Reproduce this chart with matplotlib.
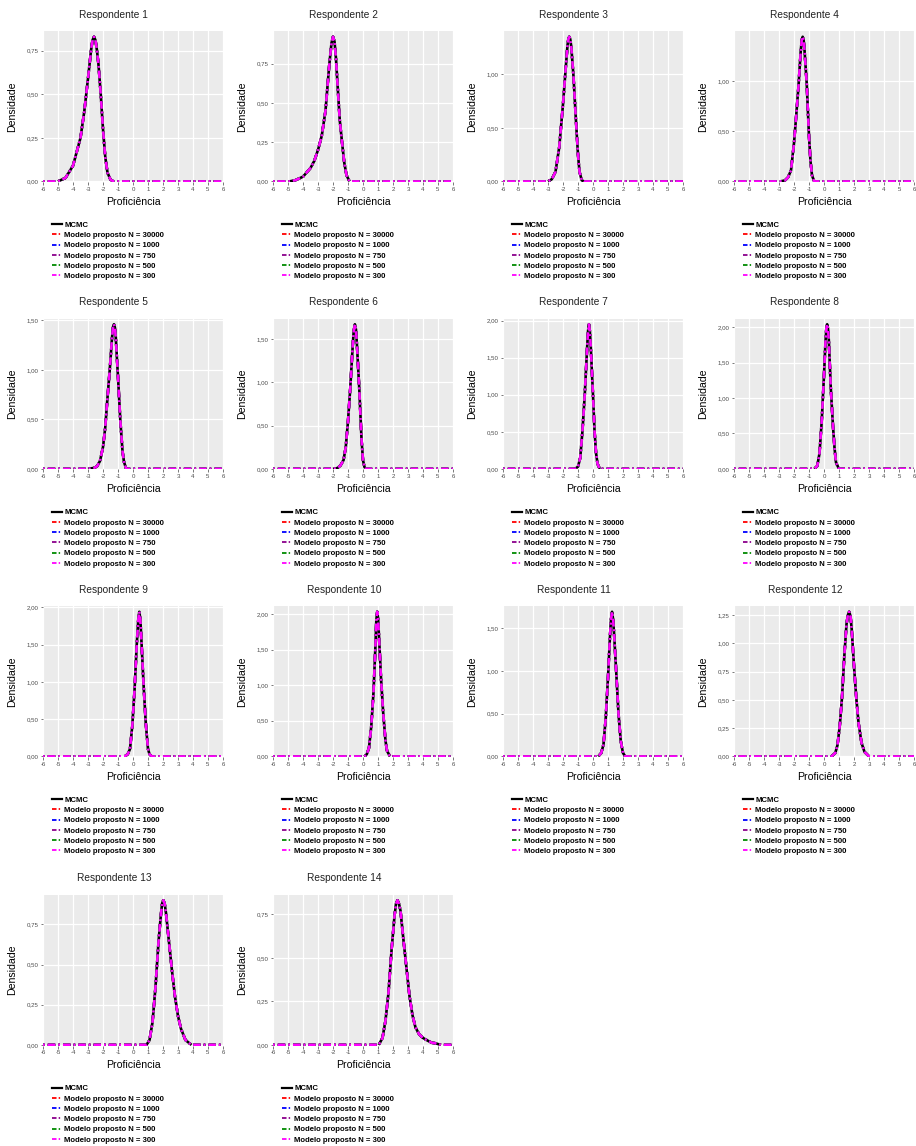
import matplotlib
matplotlib.use("Agg")
import matplotlib.pyplot as plt
from matplotlib.lines import Line2D

plt.rcParams['font.family'] = ['Liberation Sans', 'DejaVu Sans']

# ---------------- data ----------------
series_labels = ["MCMC", "Modelo proposto N = 30000", "Modelo proposto N = 1000",
                 "Modelo proposto N = 750", "Modelo proposto N = 500",
                 "Modelo proposto N = 300"]
series_colors = ["#000000", "#FF0000", "#0000FF", "#8B008B", "#008B00", "#FF00FF"]

x_ticks = [-6, -5, -4, -3, -2, -1, 0, 1, 2, 3, 4, 5, 6]
x_tick_labels = ["-6", "-5", "-4", "-3", "-2", "-1", "0", "1", "2", "3", "4", "5", "6"]

titles = ["Respondente %d" % i for i in range(1, 15)]

theta_1 = [-5.0, -4.5, -4.0, -3.75, -3.5, -3.25, -3.0, -2.8, -2.7, -2.6, -2.5, -2.4, -2.3, -2.15, -2.0, -1.85, -1.7, -1.5, -1.3]
dens_1 = [0.0, 0.02, 0.09, 0.17, 0.25, 0.40, 0.59, 0.75, 0.81, 0.83, 0.81, 0.75, 0.67, 0.50, 0.30, 0.14, 0.05, 0.01, 0.0]

theta_2 = [-4.9, -4.5, -4.0, -3.5, -3.25, -3.0, -2.75, -2.5, -2.25, -2.1, -2.0, -1.9, -1.8, -1.7, -1.55, -1.4, -1.25, -1.1, -0.9]
dens_2 = [0.0, 0.008, 0.03, 0.085, 0.13, 0.20, 0.29, 0.45, 0.74, 0.88, 0.92, 0.89, 0.78, 0.62, 0.39, 0.25, 0.12, 0.04, 0.0]

theta_3 = [-3.0, -2.75, -2.5, -2.25, -2.0, -1.85, -1.7, -1.64, -1.58, -1.52, -1.45, -1.3, -1.15, -1.0, -0.9, -0.75, -0.6]
dens_3 = [0.0, 0.02, 0.09, 0.32, 0.72, 1.00, 1.27, 1.33, 1.35, 1.33, 1.26, 0.98, 0.60, 0.25, 0.09, 0.01, 0.0]

theta_4 = [-2.9, -2.6, -2.4, -2.2, -2.0, -1.85, -1.7, -1.55, -1.48, -1.42, -1.36, -1.3, -1.15, -1.0, -0.9, -0.8, -0.65]
dens_4 = [0.0, 0.01, 0.04, 0.11, 0.38, 0.66, 0.95, 1.30, 1.41, 1.44, 1.41, 1.31, 0.97, 0.45, 0.20, 0.06, 0.0]

theta_5 = [-3.0, -2.6, -2.4, -2.2, -2.0, -1.85, -1.7, -1.55, -1.4, -1.33, -1.27, -1.21, -1.15, -1.0, -0.85, -0.7, -0.6, -0.45]
dens_5 = [0.0, 0.01, 0.025, 0.08, 0.22, 0.42, 0.72, 1.00, 1.32, 1.43, 1.46, 1.43, 1.33, 0.93, 0.50, 0.18, 0.07, 0.0]

theta_6 = [-2.0, -1.7, -1.5, -1.3, -1.15, -1.0, -0.85, -0.7, -0.62, -0.54, -0.47, -0.4, -0.25, -0.1, 0.0, 0.1, 0.2]
dens_6 = [0.0, 0.01, 0.04, 0.10, 0.25, 0.55, 0.93, 1.38, 1.59, 1.67, 1.61, 1.42, 0.93, 0.35, 0.10, 0.02, 0.0]

theta_7 = [-1.2, -1.0, -0.85, -0.7, -0.55, -0.4, -0.33, -0.27, -0.21, -0.15, 0.0, 0.1, 0.2, 0.3, 0.45]
dens_7 = [0.0, 0.03, 0.15, 0.52, 1.00, 1.60, 1.86, 1.95, 1.86, 1.65, 1.00, 0.52, 0.22, 0.07, 0.0]

theta_8 = [-0.65, -0.45, -0.3, -0.15, 0.0, 0.1, 0.155, 0.21, 0.265, 0.32, 0.45, 0.6, 0.7, 0.8, 1.0]
dens_8 = [0.0, 0.04, 0.22, 0.68, 1.32, 1.80, 1.98, 2.04, 1.98, 1.82, 1.15, 0.60, 0.30, 0.09, 0.0]

theta_9 = [-0.55, -0.35, -0.2, -0.05, 0.1, 0.25, 0.35, 0.42, 0.49, 0.55, 0.7, 0.85, 1.0, 1.1, 1.25]
dens_9 = [0.0, 0.03, 0.10, 0.40, 0.88, 1.50, 1.83, 1.94, 1.84, 1.60, 0.98, 0.45, 0.10, 0.03, 0.0]

theta_10 = [0.1, 0.25, 0.4, 0.55, 0.7, 0.82, 0.89, 0.95, 1.01, 1.08, 1.2, 1.35, 1.5, 1.6, 1.8]
dens_10 = [0.0, 0.03, 0.12, 0.42, 0.90, 1.50, 1.92, 2.03, 1.93, 1.62, 1.10, 0.60, 0.22, 0.08, 0.0]

theta_11 = [0.35, 0.55, 0.7, 0.85, 1.0, 1.13, 1.2, 1.27, 1.34, 1.4, 1.55, 1.7, 1.85, 2.0, 2.15]
dens_11 = [0.0, 0.04, 0.14, 0.45, 0.92, 1.40, 1.60, 1.69, 1.60, 1.45, 0.98, 0.50, 0.18, 0.04, 0.0]

theta_12 = [0.5, 0.75, 0.9, 1.05, 1.2, 1.35, 1.5, 1.59, 1.68, 1.77, 1.85, 2.0, 2.15, 2.3, 2.5, 2.7, 3.0]
dens_12 = [0.0, 0.03, 0.10, 0.27, 0.52, 0.88, 1.17, 1.25, 1.28, 1.24, 1.12, 0.80, 0.52, 0.30, 0.12, 0.04, 0.0]

theta_13 = [0.9, 1.1, 1.3, 1.5, 1.7, 1.85, 1.94, 2.02, 2.11, 2.2, 2.4, 2.6, 2.8, 3.0, 3.2, 3.5, 3.9]
dens_13 = [0.0, 0.03, 0.14, 0.36, 0.64, 0.80, 0.88, 0.90, 0.88, 0.82, 0.64, 0.46, 0.30, 0.18, 0.10, 0.03, 0.0]

theta_14 = [1.05, 1.3, 1.5, 1.7, 1.9, 2.1, 2.2, 2.3, 2.4, 2.5, 2.7, 2.9, 3.1, 3.3, 3.5, 3.75, 4.0, 4.3, 4.6, 4.8, 5.2]
dens_14 = [0.0, 0.04, 0.14, 0.30, 0.54, 0.74, 0.81, 0.83, 0.81, 0.77, 0.60, 0.44, 0.28, 0.17, 0.10, 0.06, 0.04, 0.025, 0.012, 0.01, 0.0]

thetas = [theta_1, theta_2, theta_3, theta_4, theta_5, theta_6, theta_7,
          theta_8, theta_9, theta_10, theta_11, theta_12, theta_13, theta_14]
denss = [dens_1, dens_2, dens_3, dens_4, dens_5, dens_6, dens_7,
         dens_8, dens_9, dens_10, dens_11, dens_12, dens_13, dens_14]

y_break_step = [0.25, 0.25, 0.5, 0.5, 0.5, 0.5, 0.5, 0.5, 0.5, 0.5, 0.5, 0.25, 0.25, 0.25]

# ---------------- layout ----------------
W, H = 916, 1146
fig = plt.figure(figsize=(W / 100, H / 100), dpi=100)

col_left = [43, 273, 503, 734]
row_bottom = [182, 469.5, 757, 1045.5]
ax_w, ax_h = 180, 151

DOTDASH = (0.7, 1.2, 3.0, 1.2)

for i in range(14):
    r, c = divmod(i, 4)
    left = col_left[c] / W
    bottom = 1 - row_bottom[r] / H
    ax = fig.add_axes([left, bottom, ax_w / W, ax_h / H])
    ax.set_facecolor("#EBEBEB")
    for s in ax.spines.values():
        s.set_visible(False)
    ax.grid(True, color="white", linewidth=0.9)
    ax.set_axisbelow(True)

    th = thetas[i]
    de = denss[i]
    ax.plot(th, de, color=series_colors[0], lw=1.9, solid_capstyle="butt",
            label=series_labels[0], zorder=3)
    full_x = [-6] + th + [6]
    full_y = [0] + de + [0]
    for k in range(1, 6):
        ax.plot(full_x, full_y, color=series_colors[k], lw=1.8,
                linestyle=(0, DOTDASH), label=series_labels[k], zorder=3 + k)

    ymax = max(de) * 1.04
    ax.set_xlim(-6, 6)
    ax.set_ylim(-0.004 * ymax, ymax)
    ax.set_xticks(x_ticks)
    ax.set_xticklabels(x_tick_labels)
    step = y_break_step[i]
    nb = int(ymax / step + 1e-9)
    yt = [j * step for j in range(nb + 1)]
    ax.set_yticks(yt)
    ax.set_yticklabels([("%.2f" % v).replace(".", ",") for v in yt])
    ax.tick_params(axis="both", length=1.8, width=0.5, color="#444444",
                   labelsize=4.4, labelcolor="#4D4D4D", pad=1.5)

    ax.text(0.394, 1.108, titles[i], transform=ax.transAxes, ha="center",
            va="center", fontsize=7.3, color="#222222")
    ax.text(0.5, -0.132, "Proficiência", transform=ax.transAxes, ha="center",
            va="center", fontsize=7.6, color="black")
    ax.text(-0.17, 0.5, "Densidade", transform=ax.transAxes, ha="center",
            va="center", rotation=90, fontsize=7.6, color="black")

    leg_handles = [Line2D([0], [0], color=series_colors[0], lw=1.6)]
    for k in range(1, 6):
        leg_handles.append(Line2D([0], [0], color=series_colors[k], lw=1.3,
                                  linestyle=(0, (2.5, 1.2, 0.8, 1.2))))
    lx = (col_left[c] + 9) / W
    ly = 1 - (row_bottom[r] + 39.5) / H
    fig.legend(leg_handles, series_labels, loc="upper left",
               bbox_to_anchor=(lx, ly), frameon=False,
               prop={"weight": "bold", "size": 5.6}, handlelength=1.3,
               handletextpad=0.3, labelspacing=0.36, borderpad=0,
               borderaxespad=0)

fig.savefig("out.png", dpi=100)
